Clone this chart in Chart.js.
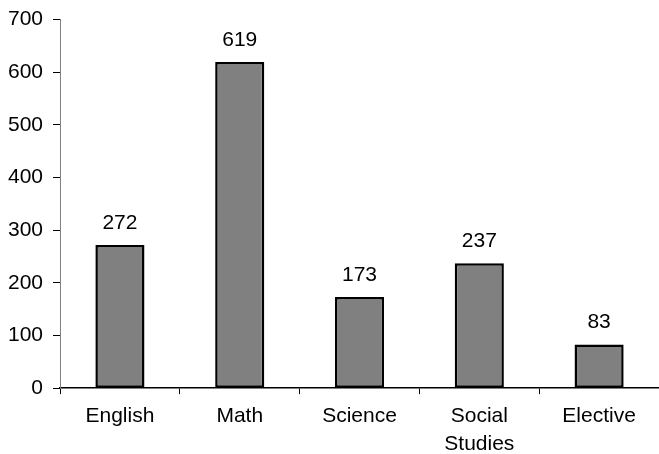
<!DOCTYPE html>
<html>
<head>
<meta charset="utf-8">
<script src="https://cdn.jsdelivr.net/npm/chart.js@4/dist/chart.umd.min.js"></script>
<style>
html,body{margin:0;padding:0;background:#fff;}
#wrap{width:659px;height:454px;position:relative;}
</style>
</head>
<body>
<div id="wrap"><canvas id="c" width="659" height="454"></canvas></div>
<script>
const categories = ['English', 'Math', 'Science', ['Social', 'Studies'], 'Elective'];
const values = [272, 619, 173, 237, 83];
const yTicks = [0, 100, 200, 300, 400, 500, 600, 700];

const FONT = '"Liberation Sans", Arial, sans-serif';

const valueLabels = {
  id: 'valueLabels',
  afterDatasetsDraw(chart) {
    const ctx = chart.ctx;
    const meta = chart.getDatasetMeta(0);
    ctx.save();
    ctx.font = '21px ' + FONT;
    ctx.fillStyle = '#000';
    ctx.textAlign = 'center';
    ctx.textBaseline = 'alphabetic';
    meta.data.forEach((el, i) => {
      ctx.fillText(String(values[i]), el.x, el.y - 16);
    });
    ctx.restore();
  }
};

new Chart(document.getElementById('c'), {
  type: 'bar',
  data: {
    labels: categories,
    datasets: [{
      data: values,
      backgroundColor: '#808080',
      borderColor: '#000',
      borderWidth: 2.5,
      borderSkipped: false,
      categoryPercentage: 1,
      barPercentage: 0.41
    }]
  },
  options: {
    responsive: false,
    animation: false,
    devicePixelRatio: 1,
    layout: { padding: { top: 0, left: -2, right: -7, bottom: -12 } },
    plugins: { legend: { display: false }, tooltip: { enabled: false } },
    scales: {
      x: {
        grid: { display: true, drawOnChartArea: false, offset: true, tickLength: 6, color: '#000', lineWidth: 1 },
        border: { display: true, color: '#000', width: 1.5 },
        ticks: { color: '#000', font: { family: FONT, size: 21, lineHeight: 1.33 }, padding: 8, maxRotation: 0, autoSkip: false }
      },
      y: {
        min: 0, max: 700,
        afterBuildTicks(axis) { axis.ticks = yTicks.map(v => ({ value: v })); },
        grid: { display: true, drawOnChartArea: false, tickLength: 7, color: '#000', lineWidth: 1 },
        border: { display: true, color: '#808080', width: 1 },
        ticks: { color: '#000', font: { family: FONT, size: 21, lineHeight: 0.9 }, padding: 10 }
      }
    }
  },
  plugins: [valueLabels]
});
</script>
</body>
</html>
